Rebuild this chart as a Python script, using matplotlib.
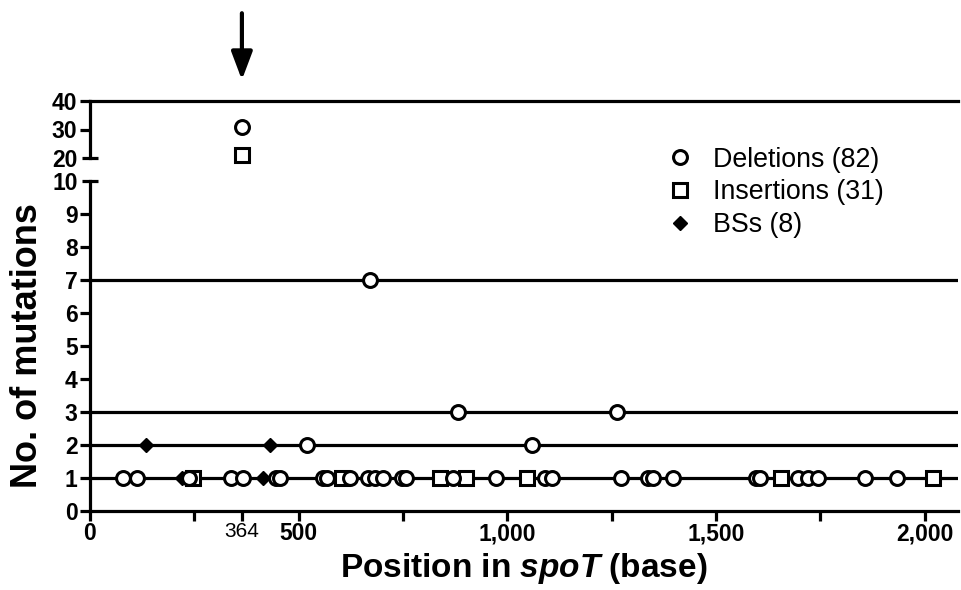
import matplotlib
matplotlib.use('Agg')
import matplotlib.pyplot as plt
from matplotlib.lines import Line2D

plt.rcParams['font.family'] = ['Liberation Sans', 'DejaVu Sans']
plt.rcParams['mathtext.fontset'] = 'custom'
plt.rcParams['mathtext.bfit'] = 'Liberation Sans:bold:italic'

# mutation positions in spoT (base) and number of mutations at each
del_pos = [364, 671, 881, 1262, 520, 1060,
           80, 113, 238, 339, 367, 445, 455, 559, 568, 623, 667, 683, 703,
           747, 758, 869, 974, 1090, 1106, 1273, 1337, 1349, 1397,
           1597, 1606, 1697, 1721, 1745, 1856, 1934]
del_n = [31, 7, 3, 3, 2, 2] + [1] * 30
ins_pos = [364, 247, 603, 838, 902, 1046, 1657, 2020]
ins_n = [21, 1, 1, 1, 1, 1, 1, 1]
bs_pos = [134, 431, 220, 414]
bs_n = [2, 2, 1, 1]

ref_lines_low = [1, 2, 3, 7]
ref_lines_top = [40]
xticks = [0, 364, 500, 1000, 1500, 2000]
xticklabels = ['0', '364', '500', '1,000', '1,500', '2,000']
legend_labels = ['Deletions (82)', 'Insertions (31)', 'BSs (8)']

fig = plt.figure(figsize=(9.61, 5.90), dpi=100)
left, right = 90 / 961, 958 / 961
ax = fig.add_axes([left, 1 - 511 / 590, right - left, 330 / 590])
axt = fig.add_axes([left, 1 - 158 / 590, right - left, 57 / 590], sharex=ax)

lw = 2.3
ms = 10
mew = 2.2


def draw(a, lo, hi):
    a.plot([p for p, n in zip(bs_pos, bs_n) if lo <= n <= hi],
           [n for n in bs_n if lo <= n <= hi], 'D', ms=7, color='k',
           clip_on=False, zorder=3)
    a.plot([p for p, n in zip(ins_pos, ins_n) if lo <= n <= hi],
           [n for n in ins_n if lo <= n <= hi], 's', ms=ms - 0.5, mfc='white',
           mec='k', mew=mew, clip_on=False, zorder=4)
    a.plot([p for p, n in zip(del_pos, del_n) if lo <= n <= hi],
           [n for n in del_n if lo <= n <= hi], 'o', ms=ms, mfc='white',
           mec='k', mew=mew, clip_on=False, zorder=5)


for y in ref_lines_low:
    ax.axhline(y, color='k', lw=lw, zorder=1)
for y in ref_lines_top:
    axt.axhline(y, color='k', lw=lw, zorder=1, clip_on=False)

draw(ax, 0, 10)
draw(axt, 20, 40)

ax.set_xlim(0, 2080)
ax.set_ylim(0, 10)
axt.set_ylim(20, 40)

for a in (ax, axt):
    a.spines['top'].set_visible(False)
    a.spines['right'].set_visible(False)
    a.spines['left'].set_linewidth(lw)
    a.spines['bottom'].set_linewidth(lw)
    a.tick_params(width=lw, length=7, labelsize=16.5, direction='out', pad=2)
axt.spines['bottom'].set_visible(False)
axt.tick_params(axis='x', which='both', bottom=False, labelbottom=False)
ax.tick_params(axis='x', pad=1)

ax.set_yticks(range(11))
ax.set_yticklabels([str(i) for i in range(11)], fontweight='bold')
axt.set_yticks([20, 30, 40])
axt.set_yticklabels(['20', '30', '40'], fontweight='bold')

# break caps at 10 and 20
ax.plot([0], [10], marker='_', ms=12, mew=lw, color='k', clip_on=False, zorder=6)
axt.plot([0], [20], marker='_', ms=12, mew=lw, color='k', clip_on=False, zorder=6)
ax.yaxis.get_major_ticks()[-1].tick1line.set_visible(False)
axt.yaxis.get_major_ticks()[0].tick1line.set_visible(False)

ax.set_xticks(xticks)
ax.set_xticklabels(xticklabels, fontweight='bold')
lab364 = ax.get_xticklabels()[1]
lab364.set_fontweight('normal')
lab364.set_fontsize(15)
ax.set_xticks([250, 750, 1250, 1750], minor=True)
ax.tick_params(axis='x', which='minor', width=lw, length=7)

ax.set_xlabel(r'Position in $\bfit{spoT}$ (base)', fontsize=24, fontweight='bold', labelpad=4)
ax.set_ylabel('No. of mutations', fontsize=26, fontweight='bold', labelpad=5)

axt.annotate('', xy=(364, 1.37), xycoords=('data', 'axes fraction'),
             xytext=(364, 2.54), textcoords=('data', 'axes fraction'),
             arrowprops=dict(arrowstyle='-|>,head_width=0.32,head_length=0.85',
                             mutation_scale=20, shrinkA=0, shrinkB=0,
                             color='k', lw=3))

handles = [Line2D([], [], ls='none', marker='o', ms=ms, mfc='white', mec='k', mew=mew),
           Line2D([], [], ls='none', marker='s', ms=ms - 0.5, mfc='white', mec='k', mew=mew),
           Line2D([], [], ls='none', marker='D', ms=7, color='k')]
fig.legend(handles, legend_labels, loc='upper left', bbox_to_anchor=(656 / 961, 1 - 136 / 590),
           frameon=False, fontsize=19.3, handletextpad=0.73, labelspacing=0.25,
           handlelength=1.0, borderaxespad=0)

fig.savefig('out.png', dpi=100)
